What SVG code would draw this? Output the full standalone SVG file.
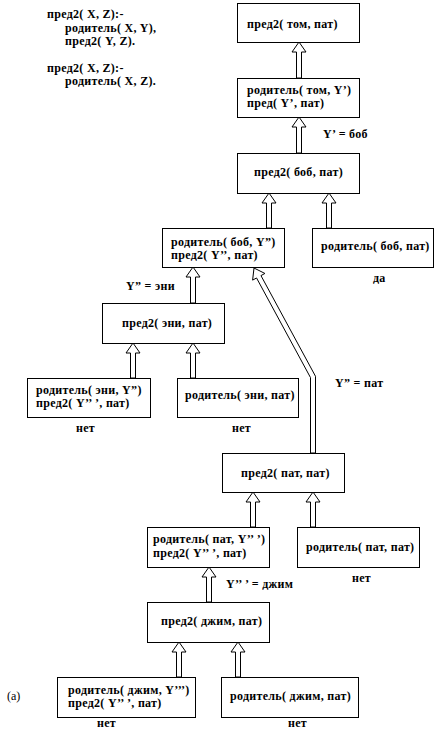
<svg xmlns="http://www.w3.org/2000/svg" width="435" height="731" viewBox="0 0 435 731">
<style>
text{font-family:"Liberation Serif","Times New Roman",serif;font-size:12px;font-weight:bold;letter-spacing:0.3px;fill:#000}
.reg{font-weight:normal;letter-spacing:0}
.box{fill:#fff;stroke:#000;stroke-width:1}
.arr{fill:#fff;stroke:#000;stroke-width:1}
</style>
<rect width="435" height="731" fill="#fff"/>
<g id="code">
<text x="47" y="18">пред2( X, Z):-</text>
<text x="65" y="32">родитель( X, Y),</text>
<text x="65" y="45">пред2( Y, Z).</text>
<text x="47" y="72">пред2( X, Z):-</text>
<text x="65" y="85">родитель( X, Z).</text>
</g>
<g id="connectors">
<polygon class="arr" points="296.5,78 296.5,52 292,52 299,42 306,52 301.5,52 301.5,78"/>
<polygon class="arr" points="296.5,153 296.5,127 292,127 299,117 306,127 301.5,127 301.5,153"/>
<polygon class="arr" points="266.5,228 266.5,203 262,203 269,193 276,203 271.5,203 271.5,228"/>
<polygon class="arr" points="326.5,228 326.5,203 322,203 329,193 336,203 331.5,203 331.5,228"/>
<polygon class="arr" points="190.5,303 190.5,277 186,277 193,267 200,277 195.5,277 195.5,303"/>
<polygon class="arr" points="130.5,378 130.5,353 126,353 133,343 140,353 135.5,353 135.5,378"/>
<polygon class="arr" points="190.5,378 190.5,353 186,353 193,343 200,353 195.5,353 195.5,378"/>
<polygon class="arr" points="310.5,453 310.5,377.6 256.56,277.98 252.61,280.12 254,268 264.91,273.46 260.96,275.6 315.5,376.3 315.5,453"/>
<polygon class="arr" points="250.5,527 250.5,502 246,502 253,492 260,502 255.5,502 255.5,527"/>
<polygon class="arr" points="310.5,527 310.5,502 306,502 313,492 320,502 315.5,502 315.5,527"/>
<polygon class="arr" points="206.5,602 206.5,577 202,577 209,567 216,577 211.5,577 211.5,602"/>
<polygon class="arr" points="176.5,677 176.5,652 172,652 179,642 186,652 181.5,652 181.5,677"/>
<polygon class="arr" points="235.5,677 235.5,652 231,652 238,642 245,652 240.5,652 240.5,677"/>
<text x="323" y="138">Y’ = боб</text>
<text x="126" y="290">Y” = эни</text>
<text x="335" y="387">Y” = пат</text>
<text x="226" y="588">Y’’ ’ = джим</text>
</g>
<g id="n1"><rect class="box" x="237.5" y="3.5" width="122" height="39"/><text x="247" y="28">пред2( том, пат)</text></g>
<g id="n2"><rect class="box" x="237.5" y="78.5" width="122" height="39"/><text x="247" y="94">родитель( том, Y’)</text><text x="247" y="107">пред( Y’, пат)</text></g>
<g id="n3"><rect class="box" x="237.5" y="153.5" width="122" height="40"/><text x="254" y="176">пред2( боб, пат)</text></g>
<g id="n4"><rect class="box" x="162.5" y="228.5" width="122" height="39"/><text x="171" y="246">родитель( боб, Y”)</text><text x="171" y="259">пред2( Y’’, пат)</text></g>
<g id="n5"><rect class="box" x="312.5" y="228.5" width="121" height="39"/><text x="321" y="250">родитель( боб, пат)</text><text x="373" y="282">да</text></g>
<g id="n6"><rect class="box" x="102.5" y="303.5" width="122" height="40"/><text x="122" y="327">пред2( эни, пат)</text></g>
<g id="n7"><rect class="box" x="27.5" y="378.5" width="123" height="39"/><text x="36" y="394">родитель( эни, Y”)</text><text x="36" y="407">пред2( Y’’ ’, пат)</text><text x="76" y="432">нет</text></g>
<g id="n8"><rect class="box" x="177.5" y="378.5" width="121" height="39"/><text x="185" y="399">родитель( эни, пат)</text><text x="232" y="432">нет</text></g>
<g id="n9"><rect class="box" x="222.5" y="453.5" width="122" height="39"/><text x="241" y="477">пред2( пат, пат)</text></g>
<g id="n10"><rect class="box" x="147.5" y="527.5" width="122" height="40"/><text x="153" y="543">родитель( пат, Y’’ ’)</text><text x="153" y="557">пред2( Y’’ ’, пат)</text></g>
<g id="n11"><rect class="box" x="297.5" y="527.5" width="122" height="40"/><text x="306" y="551">родитель( пат, пат)</text><text x="352" y="582">нет</text></g>
<g id="n12"><rect class="box" x="147.5" y="602.5" width="122" height="40"/><text x="161" y="625">пред2( джим, пат)</text></g>
<g id="n13"><rect class="box" x="57.5" y="677.5" width="138" height="40"/><text x="68" y="694">родитель( джим, Y’’’)</text><text x="68" y="707">пред2( Y’’ ’, пат)</text><text x="97" y="727">нет</text></g>
<g id="n14"><rect class="box" x="221.5" y="677.5" width="137" height="40"/><text x="230" y="700">родитель( джим, пат)</text><text x="288" y="727">нет</text></g>
<text class="reg" x="7" y="700">(а)</text>
</svg>
